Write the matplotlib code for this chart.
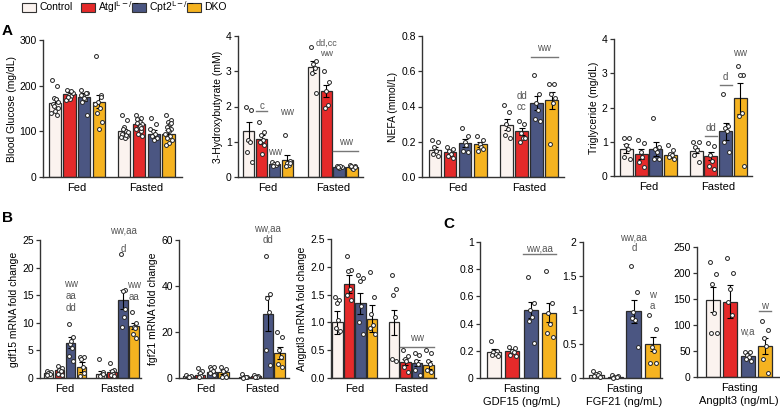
import numpy as np
import matplotlib
matplotlib.use('Agg')
from matplotlib import pyplot as plt
from matplotlib.patches import Rectangle

plt.rcParams['font.family'] = ['Liberation Sans', 'DejaVu Sans']
plt.rcParams['font.size'] = 7

# genotypes
groups = ['Control', r'Atgl$^{\mathrm{L}-/-}$', r'Cpt2$^{\mathrm{L}-/-}$', 'DKO']
colors = ['#FBF3EF', '#E52A2A', '#4B5682', '#F5B320']
conds = ['Fed', 'Fasted']

# ---- panel A: blood glucose
glu_mean = [[163, 181, 175, 165], [100, 115, 95, 95]]
glu_err = [[10, 6, 8, 14], [5, 5, 7, 7]]
glu_pts = [[[213, 200, 172, 170, 160, 150, 145, 140, 135, 155, 165],
            [190, 185, 180, 178, 175, 183, 170, 168, 188, 176],
            [190, 185, 178, 170, 165, 135, 172, 180, 185],
            [265, 180, 165, 150, 140, 120, 105, 160, 175]],
           [[135, 125, 110, 100, 95, 90, 85, 88, 92, 105, 98],
            [135, 130, 125, 120, 118, 115, 110, 105, 100, 95, 90, 112, 128, 108],
            [130, 115, 100, 95, 90, 85, 80, 105],
            [135, 125, 120, 115, 110, 105, 100, 95, 90, 85, 80, 75, 70, 118, 102]]]

# ---- panel A: 3-hydroxybutyrate
bhb_mean = [[1.3, 1.07, 0.36, 0.48], [3.12, 2.43, 0.28, 0.28]]
bhb_err = [[0.27, 0.13, 0.03, 0.15], [0.17, 0.17, 0.02, 0.03]]
bhb_pts = [[[2.0, 1.9, 1.05, 1.0, 0.7, 0.42],
            [1.55, 1.28, 1.2, 1.05, 1.0, 0.9, 0.65],
            [0.42, 0.38, 0.36, 0.33, 0.3, 0.4],
            [1.2, 0.45, 0.4, 0.35, 0.3, 0.4]],
           [[3.7, 3.3, 3.2, 3.1, 2.95, 2.37],
            [3.0, 2.7, 2.45, 2.05, 1.95],
            [0.3, 0.28, 0.26, 0.3, 0.27],
            [0.35, 0.3, 0.25, 0.22, 0.3, 0.28]]]

# ---- panel A: NEFA
nefa_mean = [[0.155, 0.142, 0.195, 0.185], [0.297, 0.26, 0.42, 0.435]]
nefa_err = [[0.015, 0.012, 0.022, 0.015], [0.03, 0.02, 0.04, 0.05]]
nefa_pts = [[[0.21, 0.2, 0.17, 0.15, 0.13, 0.12],
             [0.17, 0.16, 0.15, 0.13, 0.12, 0.11],
             [0.28, 0.23, 0.2, 0.18, 0.15, 0.14],
             [0.23, 0.21, 0.19, 0.17, 0.15, 0.16]],
            [[0.41, 0.37, 0.3, 0.27, 0.24, 0.22],
             [0.32, 0.3, 0.25, 0.22, 0.2, 0.22],
             [0.58, 0.47, 0.42, 0.38, 0.33, 0.32],
             [0.53, 0.53, 0.47, 0.42, 0.19, 0.45]]]

# ---- panel A: triglyceride
tg_mean = [[0.79, 0.64, 0.78, 0.61], [0.74, 0.58, 1.31, 2.27]]
tg_err = [[0.13, 0.14, 0.2, 0.07], [0.08, 0.12, 0.25, 0.45]]
tg_pts = [[[1.12, 1.12, 0.9, 0.8, 0.55, 0.5],
           [1.05, 0.97, 0.7, 0.55, 0.4, 0.25],
           [1.7, 0.85, 0.8, 0.7, 0.5, 0.5],
           [0.9, 0.75, 0.65, 0.6, 0.55, 0.5]],
          [[0.98, 0.98, 0.85, 0.75, 0.6, 0.4],
           [0.95, 0.87, 0.62, 0.45, 0.3, 0.2],
           [2.4, 1.45, 1.4, 1.3, 1.0, 0.7],
           [3.2, 2.95, 2.95, 1.85, 1.75, 0.3]]]

# ---- panel B: gdf15 mRNA
gdf_mean = [[0.9, 1.4, 6.35, 2.0], [0.8, 1.1, 14.2, 9.45]]
gdf_err = [[0.15, 0.25, 1.0, 0.9], [0.5, 0.35, 1.7, 0.6]]
gdf_pts = [[[1.3, 1.0, 0.9, 0.7, 0.6],
            [2.2, 1.8, 1.5, 1.2, 0.8, 0.6],
            [9.7, 7.5, 6.2, 5.5, 4.0, 3.0, 6.7],
            [3.8, 3.8, 3.4, 2.0, 0.3, 0.9]],
           [[3.5, 1.0, 0.6, 0.3, 0.4, 0.8],
            [2.8, 1.5, 1.2, 0.8, 0.5, 0.4],
            [22.4, 16.0, 15.8, 11.0, 9.3, 12.5],
            [12.0, 10.0, 9.3, 9.0, 8.0, 7.2]]]

# ---- panel B: fgf21 mRNA
fgf_mean = [[0.8, 1.5, 2.5, 2.5], [0.5, 0.7, 28, 10.9]]
fgf_err = [[0.2, 0.5, 0.6, 0.8], [0.15, 0.1, 7.5, 2.5]]
fgf_pts = [[[1.5, 1.0, 0.6, 0.4],
            [4.5, 3.0, 2.0, 1.0, 0.5],
            [5, 5, 4, 3, 2, 1.5],
            [5, 4, 3, 1.5, 0.5, 0.3]],
           [[1.8, 0.6, 0.4, 0.3, 0.2],
            [1.2, 1.0, 0.6, 0.4, 0.3],
            [53, 36.5, 35, 28.5, 12, 5.5],
            [20, 18, 12, 9, 6, 5]]]

# ---- panel B: angptl3 mRNA
ang_mean = [[1.0, 1.69, 1.34, 1.07], [1.0, 0.29, 0.27, 0.23]]
ang_err = [[0.2, 0.17, 0.18, 0.25], [0.22, 0.06, 0.06, 0.07]]
ang_pts = [[[1.45, 1.4, 1.35, 1.05, 0.9, 0.85],
            [2.2, 1.95, 1.92, 1.6, 1.5, 1.4],
            [1.85, 1.8, 1.75, 1.3, 1.0, 0.8],
            [1.9, 1.45, 1.15, 0.95, 0.9, 0.8]],
           [[1.85, 1.6, 1.5, 1.1, 0.35, 0.3],
            [0.5, 0.4, 0.35, 0.3, 0.2, 0.1],
            [0.45, 0.42, 0.3, 0.25, 0.15, 0.05],
            [0.5, 0.45, 0.3, 0.25, 0.15, 0.1]]]

# ---- panel C: serum, fasting
sgdf_mean = [0.19, 0.2, 0.5, 0.48]
sgdf_err = [0.02, 0.015, 0.06, 0.07]
sgdf_pts = [[0.27, 0.2, 0.19, 0.18, 0.17, 0.16],
            [0.23, 0.22, 0.2, 0.19, 0.17, 0.16],
            [0.74, 0.55, 0.5, 0.45, 0.42, 0.26],
            [0.79, 0.55, 0.48, 0.4, 0.33, 0.3]]

sfgf_mean = [0.05, 0.02, 0.98, 0.5]
sfgf_err = [0.01, 0.005, 0.17, 0.11]
sfgf_pts = [[0.1, 0.08, 0.06, 0.05, 0.03, 0.02],
            [0.04, 0.03, 0.02, 0.01, 0.0],
            [1.65, 1.27, 0.97, 0.85, 0.88, 0.45],
            [0.93, 0.72, 0.45, 0.4, 0.22, 0.22]]

sang_mean = [149, 145, 41, 60]
sang_err = [24, 32, 5, 15]
sang_pts = [[222, 199, 178, 124, 85, 85],
            [228, 200, 170, 120, 145],
            [49, 49, 42, 38, 34, 30],
            [107, 90, 75, 60, 35, 8]]

W, H = 780, 407
fig = plt.figure(figsize=(W / 100, H / 100), dpi=100)

def add_ax(x0, y0, x1, y1):
    return fig.add_axes([x0 / W, 1 - y1 / H, (x1 - x0) / W, (y1 - y0) / H])

jit = np.array([-0.22, 0.2, -0.05, 0.1, -0.15, 0.25, 0.02, -0.28, 0.15, -0.1, 0.28, 0.05, -0.2, 0.18, -0.02])

def style(ax, ylim, yticks, ylabel=None, yticklabels=None):
    for s in ['top', 'right']:
        ax.spines[s].set_visible(False)
    for s in ['left', 'bottom']:
        ax.spines[s].set_linewidth(1.0)
        ax.spines[s].set_color('#333333')
    ax.set_ylim(*ylim)
    ax.set_yticks(yticks)
    if yticklabels is not None:
        ax.set_yticklabels(yticklabels)
    ax.tick_params(axis='y', length=3, width=0.9, pad=1.5, labelsize=7.5, color='#333333')
    ax.tick_params(axis='x', length=0, pad=4.5, labelsize=8)
    if ylabel:
        ax.set_ylabel(ylabel, fontsize=7.5, labelpad=2)

def bars(ax, xs, means, errs, pts, width):
    for i in range(4):
        ax.bar(xs[i], means[i], width, color=colors[i], edgecolor='#2b2b2b', linewidth=0.9, zorder=1)
        ax.errorbar(xs[i], means[i], yerr=errs[i], fmt='none', ecolor='black',
                    elinewidth=0.8, capsize=2.2, capthick=0.8, zorder=3)
        n = len(pts[i])
        ax.plot(xs[i] + jit[:n] * width, pts[i], 'o', ms=2.8, mfc='white', mec='#222222',
                mew=0.7, zorder=4, clip_on=False)

def grouped(ax, means, errs, pts, gap, xlim, width):
    for g in range(2):
        xs = np.arange(4) + g * gap
        bars(ax, xs, means[g], errs[g], pts[g], width)
    ax.set_xlim(*xlim)
    ax.set_xticks([1.5, 1.5 + gap])
    ax.set_xticklabels(conds)

def note(ax, x, y, s, size=7):
    ax.text(x, y, s, ha='center', va='center', fontsize=size, color='#555555', clip_on=False)

def hline(ax, x0, x1, y):
    ax.plot([x0, x1], [y, y], color='#777777', lw=1.0, clip_on=False)

# ---------------- A
ax = add_ax(43, 40, 182, 177)
grouped(ax, glu_mean, glu_err, glu_pts, 4.74, (-0.8, 8.67), 0.84)
style(ax, (0, 300), [0, 100, 200, 300], 'Blood Glucose (mg/dL)')

ax = add_ax(238, 36, 363, 177)
g = 5.0
grouped(ax, bhb_mean, bhb_err, bhb_pts, g, (-0.82, 8.83), 0.9)
style(ax, (0, 4), [0, 1, 2, 3, 4], '3-Hydroxybutyrate (mM)')
note(ax, 1, 2.02, 'c'); hline(ax, 0.55, 1.45, 1.87)
note(ax, 2, 0.72, 'ww')
note(ax, 3, 1.85, 'ww')
note(ax, 1 + g, 3.78, 'dd,cc', 6.5); note(ax, 1 + g, 3.5, 'ww', 6.5)
note(ax, 2.5 + g, 1.0, 'ww'); hline(ax, 1.55 + g, 3.45 + g, 0.73)

ax = add_ax(422, 36, 564, 177)
g = 4.75
grouped(ax, nefa_mean, nefa_err, nefa_pts, g, (-0.87, 8.57), 0.84)
style(ax, (0, 0.8), [0, 0.2, 0.4, 0.6, 0.8], 'NEFA (mmol/L)',
      ['0.0', '0.2', '0.4', '0.6', '0.8'])
note(ax, 1 + g, 0.46, 'dd'); note(ax, 1 + g, 0.40, 'cc')
note(ax, 2.5 + g, 0.73, 'ww'); hline(ax, 1.6 + g, 3.4 + g, 0.68)

ax = add_ax(614, 39, 752, 176)
g = 4.72
grouped(ax, tg_mean, tg_err, tg_pts, g, (-0.84, 8.5), 0.88)
style(ax, (0, 4), [0, 1, 2, 3, 4], 'Triglyceride (mg/dL)')
note(ax, 1 + g, 1.4, 'dd'); hline(ax, 0.6 + g, 1.4 + g, 1.18)
note(ax, 2 + g, 2.88, 'd'); hline(ax, 1.6 + g, 2.4 + g, 2.66)
note(ax, 3 + g, 3.6, 'ww')

# ---------------- B
ax = add_ax(40, 240, 141, 378)
g = 4.77
grouped(ax, gdf_mean, gdf_err, gdf_pts, g, (-0.8, 8.4), 0.85)
style(ax, (0, 25), [0, 5, 10, 15, 20, 25], 'gdf15 mRNA fold change')
note(ax, 2, 17, 'ww'); note(ax, 2, 14.8, 'aa'); note(ax, 2, 12.6, 'dd')
note(ax, 2 + g, 26.8, 'ww,aa'); note(ax, 2 + g, 23.3, 'd')
note(ax, 3 + g, 16.9, 'ww'); note(ax, 3 + g, 14.7, 'aa')

ax = add_ax(179, 240, 289, 378)
g = 4.8
grouped(ax, fgf_mean, fgf_err, fgf_pts, g, (-0.81, 8.61), 0.88)
style(ax, (0, 60), [0, 20, 40, 60], 'fgf21 mRNA fold change')
note(ax, 2 + g, 64.8, 'ww,aa'); note(ax, 2 + g, 60, 'dd')

ax = add_ax(331, 239, 436, 378)
g = 4.9
grouped(ax, ang_mean, ang_err, ang_pts, g, (-0.55, 8.55), 0.9)
style(ax, (0, 2.5), [0, 0.5, 1.0, 1.5, 2.0, 2.5], 'Angptl3 mRNA fold change',
      ['0.0', '0.5', '1.0', '1.5', '2.0', '2.5'])
note(ax, 2 + g, 0.72, 'ww'); hline(ax, 0.55 + g, 3.45 + g, 0.56)

# ---------------- C
def single(ax, means, errs, pts, xlim, width, label):
    bars(ax, np.arange(4), means, errs, pts, width)
    ax.set_xlim(*xlim)
    ax.set_xticks([1.5])
    ax.set_xticklabels([label], linespacing=1.35)

ax = add_ax(480, 242, 560, 378)
single(ax, sgdf_mean, sgdf_err, sgdf_pts, (-0.77, 3.6), 0.77, 'Fasting\nGDF15 (ng/mL)')
style(ax, (0, 1), [0, 0.2, 0.4, 0.6, 0.8, 1], None, ['0', '0.2', '0.4', '0.6', '0.8', '1'])
note(ax, 2.5, 0.955, 'ww,aa'); hline(ax, 1.6, 3.4, 0.91)

ax = add_ax(583, 242, 662, 378)
single(ax, sfgf_mean, sfgf_err, sfgf_pts, (-0.72, 3.5), 0.8, 'Fasting\nFGF21 (ng/mL)')
style(ax, (0, 2), [0, 0.5, 1, 1.5, 2], None, ['0', '0.5', '1', '1.5', '2'])
note(ax, 2, 2.07, 'ww,aa'); note(ax, 2, 1.91, 'd')
note(ax, 3, 1.22, 'w'); note(ax, 3, 1.06, 'a')

ax = add_ax(697, 247, 780, 377)
single(ax, sang_mean, sang_err, sang_pts, (-0.93, 3.87), 0.81, 'Fasting\nAngplt3 (ng/mL)')
style(ax, (0, 250), [0, 50, 100, 150, 200, 250])
note(ax, 2, 88, 'w,a')
note(ax, 3, 136, 'w'); hline(ax, 2.65, 3.35, 127)

# ---------------- overlay: legend + panel letters
ov = fig.add_axes([0, 0, 1, 1])
ov.set_xlim(0, W)
ov.set_ylim(H, 0)
ov.axis('off')
leg_x = [22, 81, 132, 187]
for i in range(4):
    ov.add_patch(Rectangle((leg_x[i], 2.5), 14, 9, facecolor=colors[i], edgecolor='#333333', lw=0.8))
    ov.text(leg_x[i] + 17, 7.5, groups[i], fontsize=7.5, va='center', ha='left')
ov.text(2, 31, 'A', fontsize=11, fontweight='bold', va='center')
ov.text(2, 218, 'B', fontsize=11, fontweight='bold', va='center')
ov.text(443, 224, 'C', fontsize=11, fontweight='bold', va='center')

plt.savefig('out.png', dpi=100)
